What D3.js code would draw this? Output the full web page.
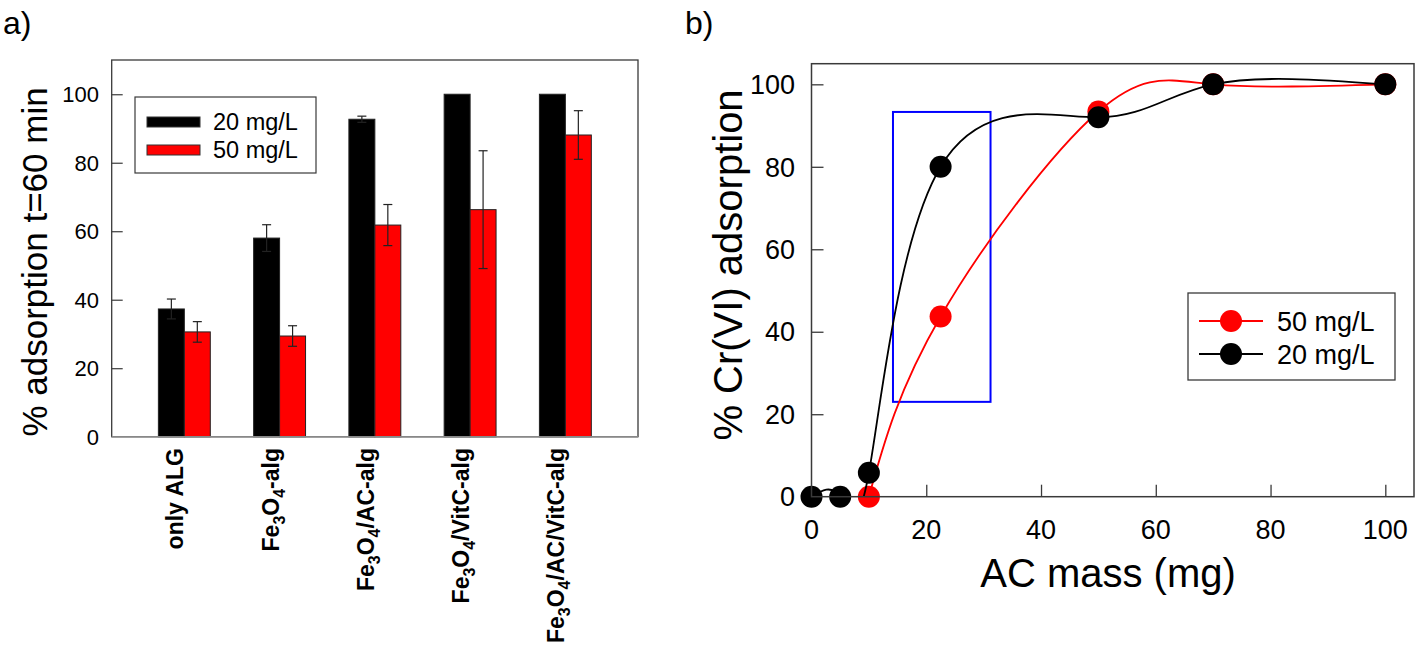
<!DOCTYPE html>
<html>
<head>
<meta charset="utf-8">
<script src="https://cdn.jsdelivr.net/npm/d3@7/dist/d3.min.js"></script>
<style>
  html, body { margin: 0; padding: 0; background: #fff; }
  svg { display: block; font-family: "Liberation Sans", Arial, sans-serif; }
</style>
</head>
<body>
<svg id="chart" width="1418" height="649"></svg>
<script>
// ---------- Panel a data ----------
const categories = ["only ALG", "Fe3O4-alg", "Fe3O4/AC-alg", "Fe3O4/VitC-alg", "Fe3O4/AC/VitC-alg"];
const seriesA = ["20 mg/L", "50 mg/L"];
const vals20 = [37.3, 58.0, 92.7, 100, 100];
const err20 = [2.9, 3.9, 0.9, 0, 0];
const vals50 = [30.6, 29.4, 61.8, 66.3, 88.1];
const err50 = [3.0, 3.0, 6.0, 17.2, 7.1];
const yTicksA = [0, 20, 40, 60, 80, 100];

// ---------- Panel b data ----------
const mass20 = [0, 5, 10, 22.5, 50, 70, 100];
const ads20 = [0, 0, 5.8, 80, 92, 100, 100];
const mass50 = [10, 22.5, 50, 70, 100];
const ads50 = [0, 43.7, 93.4, 100, 100];
const seriesB = ["50 mg/L", "20 mg/L"];
const xTicksB = [0, 20, 40, 60, 80, 100];
const yTicksB = [0, 20, 40, 60, 80, 100];
const highlightX = [14.2, 31.2];
const highlightY = [23, 93.3];

const svg = d3.select("#chart");
const FRAME = "#3a3a3a";
const RED = "#ff0000";

// ================= Panel a =================
(function () {
  const L = 111.7, R = 638, T = 60, B = 436.7;
  const g = svg.append("g");
  const x = d3.scaleBand().domain(categories).range([L, R]).paddingInner(0.455).paddingOuter(0.49);
  const xs = d3.scaleBand().domain(seriesA).range([0, x.bandwidth()]);
  const y = d3.scaleLinear().domain([0, 110]).range([B, T]);

  g.append("text").attr("x", 3).attr("y", 34).attr("font-size", 32).text("a)");

  const rows = categories.map((c, i) => [
    { c, s: seriesA[0], v: vals20[i], e: err20[i], fill: "#000" },
    { c, s: seriesA[1], v: vals50[i], e: err50[i], fill: RED }
  ]).flat();

  g.selectAll("rect.bar").data(rows).join("rect")
    .attr("class", "bar")
    .attr("x", d => x(d.c) + xs(d.s))
    .attr("width", xs.bandwidth())
    .attr("y", d => y(d.v))
    .attr("height", d => y(0) - y(d.v))
    .attr("fill", d => d.fill)
    .attr("stroke", "#222").attr("stroke-width", 1);

  const eb = rows.filter(d => d.e > 0);
  const cx = d => x(d.c) + xs(d.s) + xs.bandwidth() / 2;
  g.selectAll("line.eb").data(eb).join("line")
    .attr("x1", cx).attr("x2", cx)
    .attr("y1", d => y(d.v + d.e)).attr("y2", d => y(d.v - d.e))
    .attr("stroke", "#222").attr("stroke-width", 1.2);
  ["+", "-"].forEach(sign => {
    g.selectAll("line.cap" + (sign === "+" ? "u" : "d")).data(eb).join("line")
      .attr("x1", d => cx(d) - 4.5).attr("x2", d => cx(d) + 4.5)
      .attr("y1", d => y(sign === "+" ? d.v + d.e : d.v - d.e))
      .attr("y2", d => y(sign === "+" ? d.v + d.e : d.v - d.e))
      .attr("stroke", "#222").attr("stroke-width", 1.2);
  });

  g.append("rect").attr("x", L).attr("y", T).attr("width", R - L).attr("height", B - T)
    .attr("fill", "none").attr("stroke", FRAME).attr("stroke-width", 1.3);
  g.append("line").attr("x1", L).attr("x2", R).attr("y1", B).attr("y2", B)
    .attr("stroke", "#888").attr("stroke-width", 1.5);

  const ya = g.append("g").attr("transform", `translate(${L},0)`)
    .call(d3.axisRight(y).tickValues(yTicksA).tickSize(11).tickFormat(() => ""));
  ya.select(".domain").remove();
  ya.selectAll(".tick line").attr("stroke", FRAME).attr("stroke-width", 1.2)
    .filter(d => d === 0).remove();
  g.selectAll("text.ytl").data(yTicksA).join("text")
    .attr("x", 99).attr("y", d => y(d)).attr("dy", "0.36em")
    .attr("text-anchor", "end").attr("font-size", 22).text(d => d);

  g.append("text").attr("transform", `translate(47,262) rotate(-90)`)
    .attr("text-anchor", "middle").attr("font-size", 35).text("% adsorption t=60 min");

  categories.forEach(c => {
    const t = g.append("text")
      .attr("transform", `translate(${x(c) + x.bandwidth() / 2 - 1},448) rotate(-90)`)
      .attr("text-anchor", "end").attr("font-size", 23).attr("font-weight", "bold");
    const parts = c.split(/(?<=[A-Za-z])(\d)/);
    let sub = false;
    t.append("tspan").attr("dy", "0.36em").text("");
    parts.forEach(p => {
      if (p === "") return;
      if (/^\d$/.test(p)) {
        t.append("tspan").attr("font-size", 16).attr("dy", 6).text(p);
        sub = true;
      } else {
        t.append("tspan").attr("dy", sub ? -6 : 0).text(p);
        sub = false;
      }
    });
  });

  const lg = g.append("g");
  lg.append("rect").attr("x", 135).attr("y", 97).attr("width", 181).attr("height", 76)
    .attr("fill", "#fff").attr("stroke", FRAME).attr("stroke-width", 1.2);
  seriesA.forEach((s, i) => {
    lg.append("rect").attr("x", 147).attr("y", 117 + i * 28).attr("width", 53).attr("height", 10)
      .attr("fill", i === 0 ? "#000" : RED).attr("stroke", "#333").attr("stroke-width", 1);
    lg.append("text").attr("x", 213).attr("y", 122 + i * 28).attr("dy", "0.36em")
      .attr("font-size", 23.5).text(s);
  });
})();

// ================= Panel b =================
(function () {
  const L = 811.5, R = 1414, T = 63.7, B = 496.7;
  const g = svg.append("g");
  const x = d3.scaleLinear().domain([0, 105]).range([L, R]);
  const y = d3.scaleLinear().domain([0, 105]).range([B, T]);

  svg.append("defs").append("clipPath").attr("id", "plotClipB")
    .append("rect").attr("x", L).attr("y", T).attr("width", R - L).attr("height", B - T);

  g.append("text").attr("x", 685).attr("y", 34).attr("font-size", 32).text("b)");

  g.append("rect")
    .attr("x", x(highlightX[0])).attr("y", y(highlightY[1]))
    .attr("width", x(highlightX[1]) - x(highlightX[0]))
    .attr("height", y(highlightY[0]) - y(highlightY[1]))
    .attr("fill", "none").attr("stroke", "#0000ff").attr("stroke-width", 2);

  const line = d3.line().x(d => x(d[0])).y(d => y(d[1])).curve(d3.curveNatural);
  const d50 = mass50.map((m, i) => [m, ads50[i]]);
  const d20 = mass20.map((m, i) => [m, ads20[i]]);

  g.append("path").attr("d", line(d50)).attr("clip-path", "url(#plotClipB)")
    .attr("fill", "none").attr("stroke", RED).attr("stroke-width", 1.8);
  g.selectAll("circle.r").data(d50).join("circle").attr("class", "r")
    .attr("cx", d => x(d[0])).attr("cy", d => y(d[1])).attr("r", 11).attr("fill", RED);
  g.append("path").attr("d", line(d20)).attr("clip-path", "url(#plotClipB)")
    .attr("fill", "none").attr("stroke", "#000").attr("stroke-width", 1.8);
  g.selectAll("circle.k").data(d20).join("circle").attr("class", "k")
    .attr("cx", d => x(d[0])).attr("cy", d => y(d[1])).attr("r", 11).attr("fill", "#000");

  g.append("rect").attr("x", L).attr("y", T).attr("width", R - L).attr("height", B - T)
    .attr("fill", "none").attr("stroke", FRAME).attr("stroke-width", 1.5);

  const xa = g.append("g").attr("transform", `translate(0,${B})`)
    .call(d3.axisTop(x).tickValues(xTicksB).tickSize(12).tickFormat(() => ""));
  xa.select(".domain").remove();
  xa.selectAll(".tick line").attr("stroke", FRAME).attr("stroke-width", 1.3).filter(d => d === 0).remove();
  const ya = g.append("g").attr("transform", `translate(${L},0)`)
    .call(d3.axisRight(y).tickValues(yTicksB).tickSize(12).tickFormat(() => ""));
  ya.select(".domain").remove();
  ya.selectAll(".tick line").attr("stroke", FRAME).attr("stroke-width", 1.3).filter(d => d === 0).remove();

  g.selectAll("text.xtl").data(xTicksB).join("text")
    .attr("x", d => x(d)).attr("y", 529).attr("dy", "0.36em")
    .attr("text-anchor", "middle").attr("font-size", 27).text(d => d);
  g.selectAll("text.ytl").data(yTicksB).join("text")
    .attr("x", 795).attr("y", d => y(d)).attr("dy", "0.36em")
    .attr("text-anchor", "end").attr("font-size", 27).text(d => d);

  g.append("text").attr("x", 1108).attr("y", 587).attr("text-anchor", "middle")
    .attr("font-size", 40).text("AC mass (mg)");
  g.append("text").attr("transform", `translate(742,265) rotate(-90)`)
    .attr("text-anchor", "middle").attr("font-size", 40).text("% Cr(VI) adsorption");

  const lg = g.append("g");
  lg.append("rect").attr("x", 1188).attr("y", 293).attr("width", 207).attr("height", 87)
    .attr("fill", "#fff").attr("stroke", FRAME).attr("stroke-width", 1.3);
  seriesB.forEach((s, i) => {
    const cy = 321 + i * 33;
    const col = i === 0 ? RED : "#000";
    lg.append("line").attr("x1", 1199).attr("x2", 1263).attr("y1", cy).attr("y2", cy)
      .attr("stroke", col).attr("stroke-width", 1.8);
    lg.append("circle").attr("cx", 1231).attr("cy", cy).attr("r", 11).attr("fill", col);
    lg.append("text").attr("x", 1277).attr("y", cy).attr("dy", "0.36em")
      .attr("font-size", 27).text(s);
  });
})();
</script>
</body>
</html>
